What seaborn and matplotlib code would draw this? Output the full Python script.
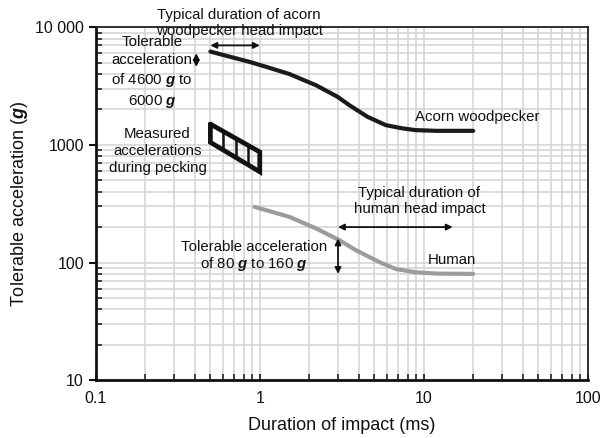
import numpy as np
import pandas as pd
import matplotlib
matplotlib.use('Agg')
import matplotlib.pyplot as plt
import seaborn as sns

# values
wood_x = [0.5, 0.865, 1.094, 1.52, 2.2, 2.98, 3.52, 4.54, 5.87, 7.41, 8.95, 12, 20]
wood_y = [6200, 5070, 4600, 3990, 3210, 2560, 2170, 1730, 1470, 1380, 1333, 1315, 1315]

human_x = [0.93, 1.52, 2.2, 3.05, 3.86, 5.35, 6.76, 8.95, 12, 20]
human_y = [297, 244, 195, 155, 127, 101, 88, 82.5, 80.5, 80]

# measured accelerations during pecking (box drawn as slanted band)
peck_x = [0.5, 1.0]
peck_top = [1500, 870]
peck_bottom = [1050, 590]
peck_dividers = [0.6, 0.72, 0.85]

x_ticks = [0.1, 1, 10, 100]
x_labels = ['0.1', '1', '10', '100']
y_ticks = [10, 100, 1000, 10000]
y_labels = ['10', '100', '1000', '10 000']

sns.set_style('ticks')
plt.rcParams['font.family'] = ['Liberation Sans', 'DejaVu Sans']
plt.rcParams['text.color'] = '#111111'
plt.rcParams['axes.labelcolor'] = '#111111'
plt.rcParams['mathtext.fontset'] = 'custom'
plt.rcParams['mathtext.rm'] = 'Liberation Sans'
plt.rcParams['mathtext.it'] = 'Liberation Sans:italic'
plt.rcParams['mathtext.bf'] = 'Liberation Sans:bold'
plt.rcParams['mathtext.bfit'] = 'Liberation Sans:italic:bold'

G = r'$\mathbfit{g}$'
FS = 10.8

fig = plt.figure(figsize=(6.06, 4.38), dpi=100)
ax = fig.add_axes([0.158, 0.132, 0.812, 0.806])

ax.set_xscale('log')
ax.set_yscale('log')
ax.set_xlim(0.1, 100)
ax.set_ylim(10, 10000)

ax.grid(True, which='both', color='#d2d2d2', linewidth=1.1)
ax.set_axisbelow(True)

wood = pd.DataFrame({'x': wood_x, 'y': wood_y})
human = pd.DataFrame({'x': human_x, 'y': human_y})
sns.lineplot(data=wood, x='x', y='y', color='#1a1a1a', linewidth=3, ax=ax)
sns.lineplot(data=human, x='x', y='y', color='#9c9c9c', linewidth=3, ax=ax)

# pecking box
lx = np.log10(peck_x)
box_x = [peck_x[0], peck_x[1], peck_x[1], peck_x[0], peck_x[0]]
box_y = [peck_top[0], peck_top[1], peck_bottom[1], peck_bottom[0], peck_top[0]]
ax.plot(box_x, box_y, color='#111111', linewidth=3.4, solid_joinstyle='miter')
for d in peck_dividers:
    top = 10 ** np.interp(np.log10(d), lx, np.log10(peck_top))
    bot = 10 ** np.interp(np.log10(d), lx, np.log10(peck_bottom))
    ax.plot([d, d], [top, bot], color='#111111', linewidth=1.8)

arrow = dict(arrowstyle='<|-|>', color='#111111', lw=1.3, mutation_scale=9,
             shrinkA=0, shrinkB=0)

ax.text(0.75, 10900, 'Typical duration of acorn\nwoodpecker head impact',
        ha='center', va='center', fontsize=FS, linespacing=1.2, clip_on=False)
ax.annotate('', xy=(0.5, 7000), xytext=(1.0, 7000), arrowprops=arrow)

ax.text(0.22, 4100, 'Tolerable\nacceleration\nof 4600 ' + G + ' to\n6000 ' + G,
        ha='center', va='center', fontsize=FS, linespacing=1.32)
ax.annotate('', xy=(0.41, 4600), xytext=(0.41, 6000), arrowprops=arrow)

ax.text(0.238, 890, 'Measured\naccelerations\nduring pecking',
        ha='center', va='center', fontsize=FS, linespacing=1.25)

ax.text(8.87, 1720, 'Acorn woodpecker', ha='left', va='center', fontsize=FS)

ax.text(9.4, 333, 'Typical duration of\nhuman head impact',
        ha='center', va='center', fontsize=FS, linespacing=1.2)
ax.annotate('', xy=(3, 200), xytext=(15, 200), arrowprops=arrow)

ax.text(0.92, 113, 'Tolerable acceleration\nof 80 ' + G + ' to 160 ' + G,
        ha='center', va='center', fontsize=FS, linespacing=1.1)
ax.annotate('', xy=(3, 80), xytext=(3, 160), arrowprops=arrow)

ax.text(10.5, 105, 'Human', ha='left', va='center', fontsize=FS)

ax.set_xticks(x_ticks)
ax.set_xticklabels(x_labels)
ax.set_yticks(y_ticks)
ax.set_yticklabels(y_labels)
ax.tick_params(axis='both', which='major', labelsize=11.5, colors='#111111')
ax.tick_params(axis='y', which='major', direction='out', length=5, width=1.5)
ax.tick_params(axis='y', which='minor', direction='in', length=4, width=1.2)
ax.tick_params(axis='x', which='both', direction='in', length=4, width=1.2)
ax.tick_params(axis='x', which='major', pad=8)

ax.set_xlabel('Duration of impact (ms)', fontsize=13, labelpad=8)
ax.set_ylabel('Tolerable acceleration (' + G + ')', fontsize=13, labelpad=4)

for s in ['left', 'bottom']:
    ax.spines[s].set_linewidth(2)
    ax.spines[s].set_color('#111111')
for s in ['top', 'right']:
    ax.spines[s].set_visible(True)
    ax.spines[s].set_linewidth(1.3)
    ax.spines[s].set_color('#222222')

fig.savefig('out.png', dpi=100)
